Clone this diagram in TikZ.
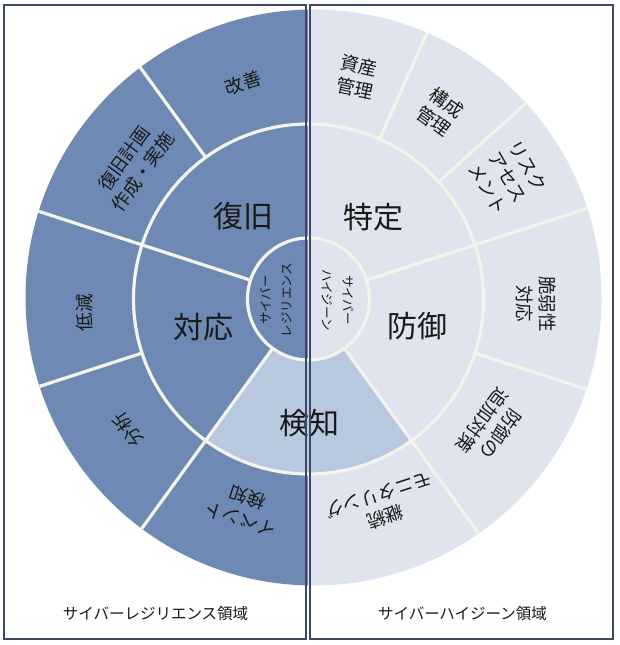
\documentclass[tikz,border=0pt]{standalone}
\usepackage{fontspec}
\setmainfont{Noto Sans CJK JP}
\definecolor{darkseg}{RGB}{110,138,180}
\definecolor{lightseg}{RGB}{223,228,238}
\definecolor{midseg}{RGB}{184,200,222}
\definecolor{sepline}{RGB}{244,243,236}
\definecolor{boxline}{RGB}{60,72,102}
\definecolor{txt}{RGB}{25,25,25}
\begin{document}
\begin{tikzpicture}[x=1pt,y=1pt,
  sep/.style={draw=sepline, line width=3.2pt},
  frame/.style={draw=boxline, line width=2pt},
  big/.style={font=\fontsize{30}{36}\selectfont, text=txt, inner sep=0pt},
  small/.style={font=\fontsize{18.5}{23}\selectfont, text=txt, align=center, inner sep=0pt},
  tiny/.style={font=\fontsize{12.5}{21}\selectfont, text=txt, align=center, inner sep=0pt},
  foot/.style={font=\fontsize{15.5}{18}\selectfont, text=txt, inner sep=0pt}]
\useasboundingbox[fill=white] (0,0) rectangle (620,645);
\begin{scope}
  \clip (313.5,347.5) circle (288);
  \fill[darkseg] (0,0) rectangle (308,645);
  \fill[lightseg] (308,0) rectangle (620,645);
  \begin{scope}[shift={(308.5,346)}]
    \fill[midseg] (234:61) -- (234:175) arc[start angle=234, end angle=306, radius=175]
      -- (306:61) arc[start angle=306, end angle=234, radius=61] -- cycle;
    \draw[sep] (0,0) circle (61);
    \draw[sep] (0,0) circle (175);
    \foreach \a in {18,162,234,306} \draw[sep] (\a:61) -- (\a:300);
    \foreach \a in {42,66,126,198,342} \draw[sep] (\a:175) -- (\a:300);
  \end{scope}
\end{scope}
% middle ring labels
\node[big] (fukkyu) at (243,428.5) {復旧};
\node[big] (tokutei) at (373,428) {特定};
\node[big] (taiou) at (203,318) {対応};
\node[big] (bougyo) at (417,319) {防御};
\node[big] (kenchi) at (309,222) {検知};
% outer ring labels
\node[small, rotate=18] (kaizen) at (243,562) {改善};
\node[small, rotate=54] (keikaku) at (133.5,479.5) {復旧計画\\作成・実施};
\node[small, rotate=90] (teigen) at (85,332) {低減};
\node[small, rotate=126] (bunseki) at (128,215) {分析};
\node[small, rotate=162] (event) at (244,137) {イベント\\検知};
\node[small, rotate=198] (keizoku) at (382,139) {継続\\モニタリング};
\node[small, rotate=234] (tsuika) at (491.5,218) {防御の\\追加対策};
\node[small, rotate=270] (zeijaku) at (536,341) {脆弱性\\対応};
\node[small, rotate=-12] (shisan) at (357,568) {資産\\管理};
\node[small, rotate=-36] (kousei) at (440,533) {構成\\管理};
\node[small, rotate=-60] (risk) at (508,468) {リスク\\アセス\\メント};
% centre labels
\node[tiny, rotate=90] (resil) at (276.5,345) {サイバー\\レジリエンス};
\node[tiny, rotate=-90] (hyg) at (338,345) {サイバー\\ハイジーン};
% frames
\draw[frame] (4,6) rectangle (306,640);
\draw[frame] (310,6) rectangle (613,640);
\node[foot] (lfoot) at (155.5,31) {サイバーレジリエンス領域};
\node[foot] (rfoot) at (462.5,31) {サイバーハイジーン領域};
\end{tikzpicture}
\end{document}
